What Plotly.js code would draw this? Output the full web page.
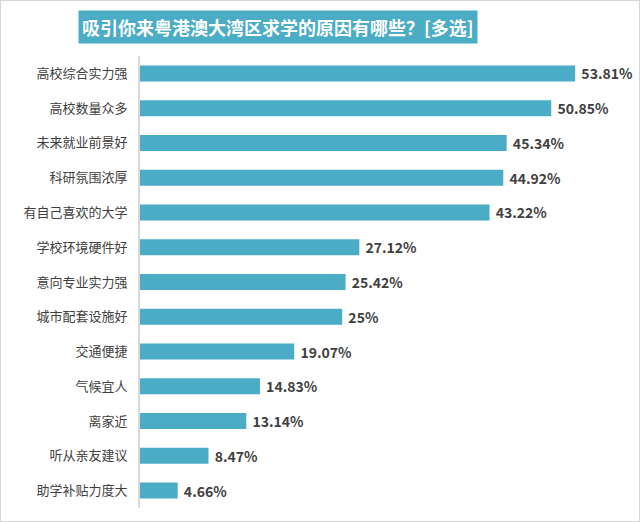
<!DOCTYPE html>
<html>
<head>
<meta charset="utf-8">
<script src="https://cdn.plot.ly/plotly-3.0.1.min.js"></script>
<style>
  body { margin: 0; background: #fff; }
  #wrap { width: 640px; height: 522px; box-sizing: border-box; border: 1px solid #d6d6d6; }
  #chart { width: 638px; height: 520px; }
</style>
</head>
<body>
<div id="wrap"><div id="chart"></div></div>
<script>
// reasons, top to bottom as drawn
const reasons = ['高校综合实力强', '高校数量众多', '未来就业前景好', '科研氛围浓厚', '有自己喜欢的大学',
    '学校环境硬件好', '意向专业实力强', '城市配套设施好', '交通便捷', '气候宜人', '离家近',
    '听从亲友建议', '助学补贴力度大'];
const shares = [53.81, 50.85, 45.34, 44.92, 43.22, 27.12, 25.42, 25, 19.07, 14.83, 13.14, 8.47, 4.66];
const chartTitle = '吸引你来粤港澳大湾区求学的原因有哪些？[多选]';

const font = '"Noto Sans CJK SC", "Noto Sans", sans-serif';

const data = [{
    type: 'bar',
    orientation: 'h',
    y: reasons,
    x: shares,
    marker: { color: '#4bacc6', line: { color: '#4bacc6', width: 0 } },
    text: shares.map(v => ' ' + v + '%'),
    textposition: 'outside',
    constraintext: 'none',
    cliponaxis: false,
    textfont: { family: font, size: 14, color: '#404040', weight: 'bold' },
    hoverinfo: 'none',
}];

const layout = {
    width: 638,
    height: 520,
    margin: { l: 139, r: 0, t: 55, b: 13 },
    paper_bgcolor: '#ffffff',
    plot_bgcolor: '#ffffff',
    showlegend: false,
    bargap: 0.54,
    font: { family: font, color: '#404040' },
    xaxis: {
        range: [0, 61.7],
        visible: false,
        fixedrange: true,
    },
    yaxis: {
        autorange: 'reversed',
        showline: true,
        linecolor: '#d9d9d9',
        linewidth: 2,
        ticks: '',
        ticklabelstandoff: 8,
        tickfont: { family: font, size: 13, color: '#404040' },
        showgrid: false,
        zeroline: false,
        fixedrange: true,
    },
    annotations: [{
        text: '<b>' + chartTitle + '</b>',
        xref: 'paper', yref: 'paper',
        x: 0.2766, y: 1.065,
        xanchor: 'center', yanchor: 'middle',
        showarrow: false,
        bgcolor: '#4bacc6',
        borderpad: 3,
        font: { family: font, size: 18, color: '#ffffff' },
    }],
};

Plotly.newPlot('chart', data, layout, { displayModeBar: false, staticPlot: true });
</script>
</body>
</html>
